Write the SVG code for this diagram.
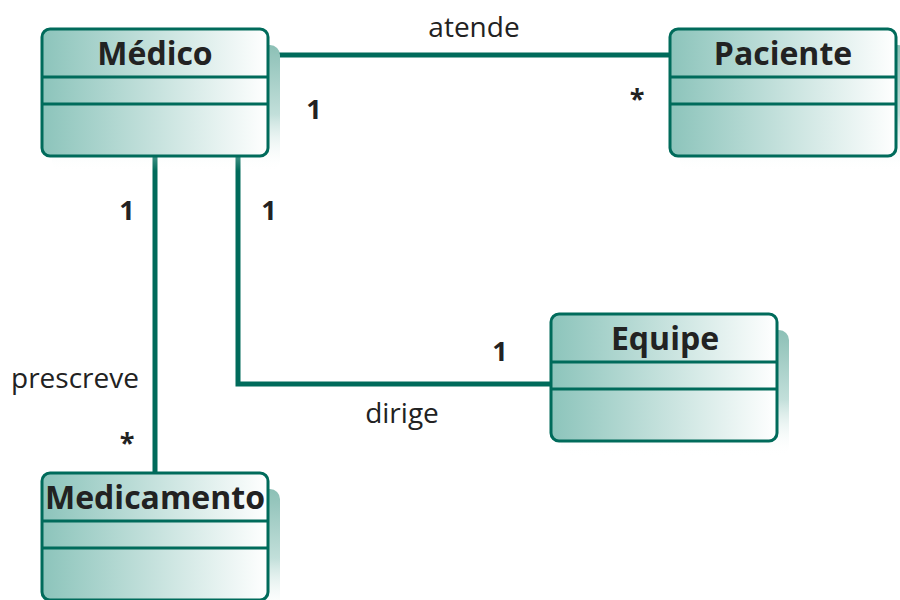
<svg xmlns="http://www.w3.org/2000/svg" width="900" height="600" viewBox="0 0 900 600">
  <defs>
    <linearGradient id="fill" x1="0" y1="0" x2="1" y2="0">
      <stop offset="0" stop-color="#8cc4bb"/>
      <stop offset="1" stop-color="#ffffff"/>
    </linearGradient>
    <linearGradient id="shade" x1="0" y1="0" x2="0" y2="1">
      <stop offset="0" stop-color="#8cc0b6"/>
      <stop offset="0.55" stop-color="#c2dfda"/>
      <stop offset="1" stop-color="#ffffff" stop-opacity="0"/>
    </linearGradient>
    <g id="cls">
      <rect x="10" y="16" width="228" height="126" rx="10" fill="url(#shade)"/>
      <rect x="0" y="0" width="226" height="127" rx="8" fill="url(#fill)" class="box"/>
      <line x1="0" y1="48" x2="226" y2="48" class="box"/>
      <line x1="0" y1="75" x2="226" y2="75" class="box"/>
    </g>
  </defs>
  <style>
    .box { stroke: #006b5b; stroke-width: 3; }
    .conn { stroke: #006b5b; stroke-width: 5; fill: none; }
    .name { font-family: "Open Sans", "Liberation Sans", sans-serif; font-weight: bold; font-size: 32px; fill: #222; text-anchor: middle; }
    .lbl { font-family: "Open Sans", "Liberation Sans", sans-serif; font-size: 28px; fill: #222; text-anchor: middle; }
    .mult { font-family: "Open Sans", "Liberation Sans", sans-serif; font-weight: bold; font-size: 27px; fill: #222; text-anchor: middle; }
  </style>
  <rect width="900" height="600" fill="#ffffff"/>

  <g id="connectors">
    <line class="conn" x1="268" y1="55" x2="670" y2="55"/>
    <line class="conn" x1="155" y1="156" x2="155" y2="473"/>
    <polyline class="conn" points="238,156 238,384 551,384"/>
  </g>

  <g id="medico">
    <use href="#cls" x="42" y="29"/>
    <text class="name" x="155" y="65">Médico</text>
  </g>
  <g id="paciente">
    <use href="#cls" x="670" y="29"/>
    <text class="name" x="783" y="65">Paciente</text>
  </g>
  <g id="equipe">
    <use href="#cls" x="551" y="314"/>
    <text class="name" x="665" y="350">Equipe</text>
  </g>
  <g id="medicamento">
    <use href="#cls" x="42" y="473"/>
    <text class="name" x="155" y="509">Medicamento</text>
  </g>

  <g id="labels">
    <text class="lbl" x="474" y="37">atende</text>
    <text class="mult" x="314" y="119">1</text>
    <text class="mult" x="637" y="108">*</text>
    <text class="mult" x="127" y="220">1</text>
    <text class="mult" x="269" y="220">1</text>
    <text class="mult" x="500" y="361">1</text>
    <text class="lbl" x="75" y="388">prescreve</text>
    <text class="mult" x="127" y="452">*</text>
    <text class="lbl" x="402" y="423">dirige</text>
  </g>
</svg>
